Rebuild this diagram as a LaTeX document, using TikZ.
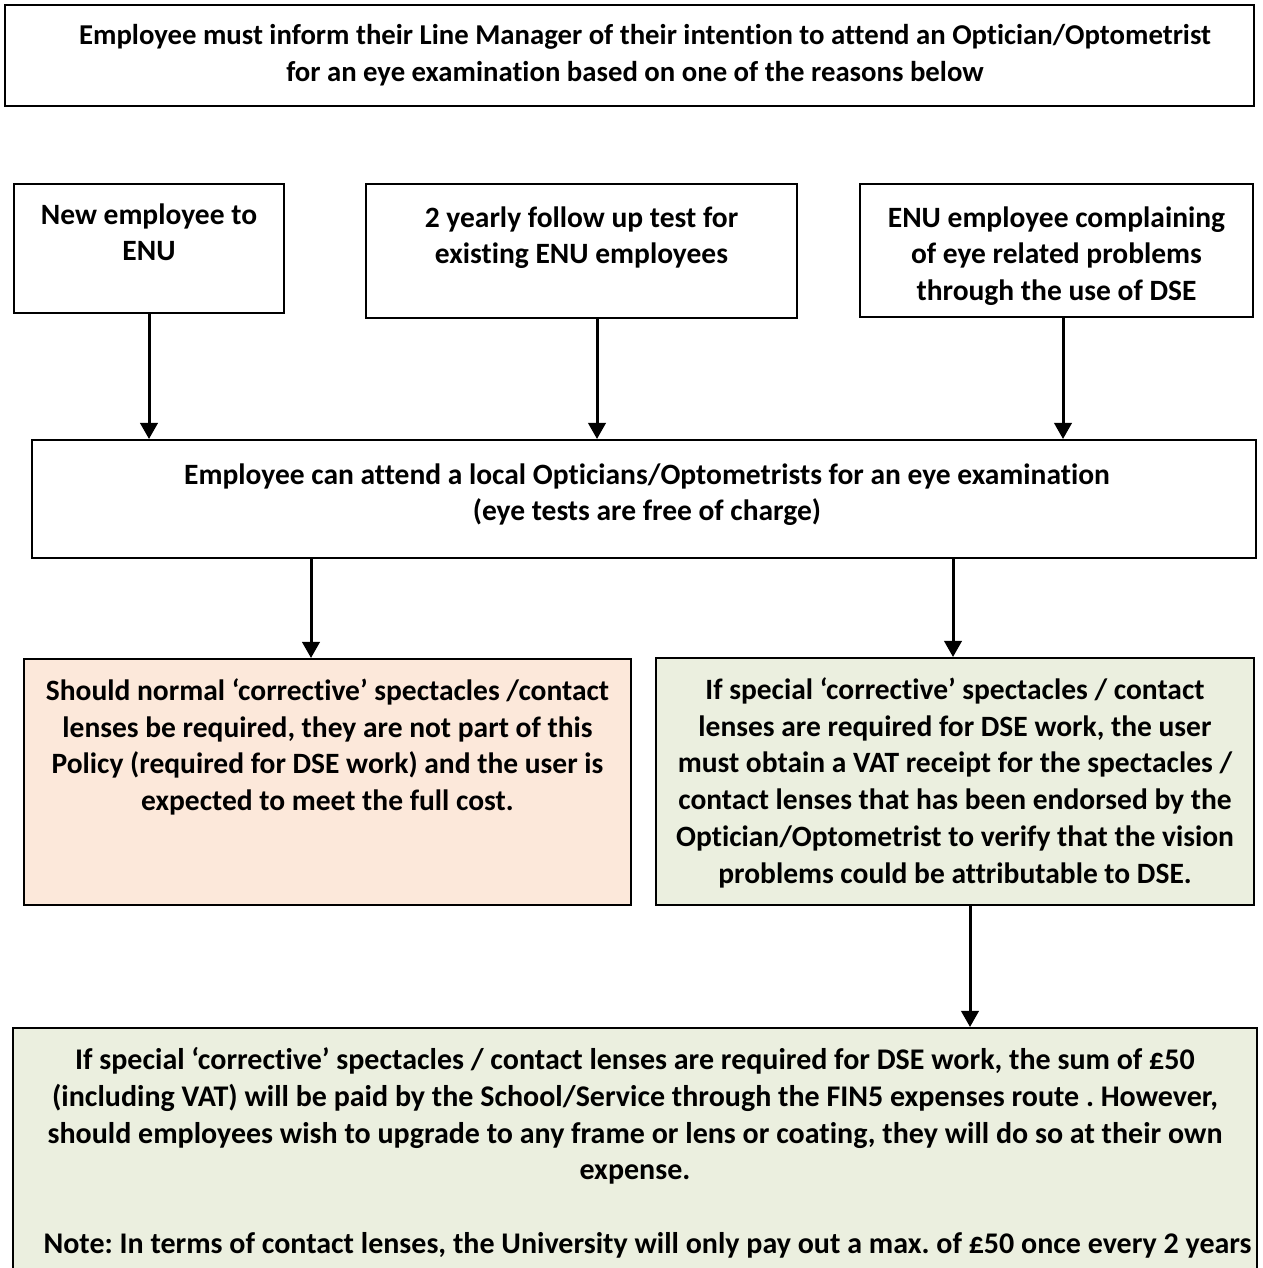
\documentclass[tikz,border=0pt]{standalone}
\usepackage{fontspec}
\setmainfont{Carlito}[Ligatures={NoCommon}]
\usetikzlibrary{arrows.meta}
\definecolor{peach}{HTML}{FCE8DA}
\definecolor{sage}{HTML}{EBEFDF}
\tikzset{
  box/.style={draw, line width=0.8pt, inner sep=0pt},
  txt/.style={anchor=north, align=center, inner sep=0pt, yshift=-8pt,
    font=\fontsize{#1}{14.7pt}\selectfont\bfseries\frenchspacing},
  txt/.default=11.8pt,
  flow/.style={line width=1.2pt, -{Triangle[width=7pt,length=6.5pt]}}
}
\begin{document}
\begin{tikzpicture}[x=0.4pt,y=-0.4pt,line cap=butt]
  \useasboundingbox (0,0) rectangle (1263,1268);
  \clip (0,0) rectangle (1263,1268);
  % top notice
  \node[box, minimum width=499.6pt, minimum height=40.4pt] (inform) at (629.5,55.5) {};
  \node[txt=11.5pt, xshift=2.2pt] (inform-t) at (inform.north) {\hspace*{8pt}Employee must inform their Line Manager of their intention to attend an Optician/Optometrist\\for an eye examination based on one of the reasons below};
  % the three reasons
  \node[box, minimum width=108pt, minimum height=51.6pt] (newemp) at (149,248.5) {};
  \node[txt] (newemp-t) at (newemp.north) {New employee to\\ENU};
  \node[box, minimum width=172.4pt, minimum height=53.6pt] (yearly) at (581.5,251) {};
  \node[txt, yshift=-1.2pt] (yearly-t) at (yearly.north) {2 yearly follow up test for\\existing ENU employees};
  \node[box, minimum width=157.2pt, minimum height=53.2pt] (complain) at (1056.5,250.5) {};
  \node[txt, yshift=-1.2pt] (complain-t) at (complain.north) {ENU employee complaining\\of eye related problems\\through the use of DSE};
  % eye test
  \node[box, minimum width=489.6pt, minimum height=47.2pt] (test) at (644,499) {};
  \node[txt, yshift=-1.6pt, xshift=1.2pt] (test-t) at (test.north) {Employee can attend a local Opticians/Optometrists for an eye examination\\(eye tests are free of charge)};
  % outcomes
  \node[box, fill=peach, minimum width=242.8pt, minimum height=98.4pt] (normal) at (327.5,782) {};
  \node[txt] (normal-t) at (normal.north) {Should normal ‘corrective’ spectacles /contact\\lenses be required, they are not part of this\\Policy (required for DSE work) and the user is\\expected to meet the full cost.};
  \node[box, fill=sage, minimum width=239.2pt, minimum height=98.8pt] (special) at (955,781.5) {};
  \node[txt] (special-t) at (special.north) {If special ‘corrective’ spectacles / contact\\lenses are required for DSE work, the user\\must obtain a VAT receipt for the spectacles /\\contact lenses that has been endorsed by the\\Optician/Optometrist to verify that the vision\\problems could be attributable to DSE.};
  \node[box, fill=sage, minimum width=497.6pt, minimum height=104.8pt] (payment) at (635,1159) {};
  \node[txt=12pt] (payment-t) at (payment.north) {If special ‘corrective’ spectacles / contact lenses are required for DSE work, the sum of £50\\(including VAT) will be paid by the School/Service through the FIN5 expenses route . However,\\should employees wish to upgrade to any frame or lens or coating, they will do so at their own\\expense.\\[14.7pt]\hspace*{10pt}Note: In terms of contact lenses, the University will only pay out a max. of £50 once every 2 years};
  % arrows
  \draw[flow] (newemp.south) -- (newemp.south |- test.north);
  \draw[flow] (yearly.south -| 597,0) -- (test.north -| 597,0);
  \draw[flow] (complain.south -| 1063,0) -- (test.north -| 1063,0);
  \draw[flow] (test.south -| 311,0) -- (normal.north -| 311,0);
  \draw[flow] (test.south -| 953,0) -- (special.north -| 953,0);
  \draw[flow] (special.south -| 970,0) -- (payment.north -| 970,0);
\end{tikzpicture}
\end{document}
